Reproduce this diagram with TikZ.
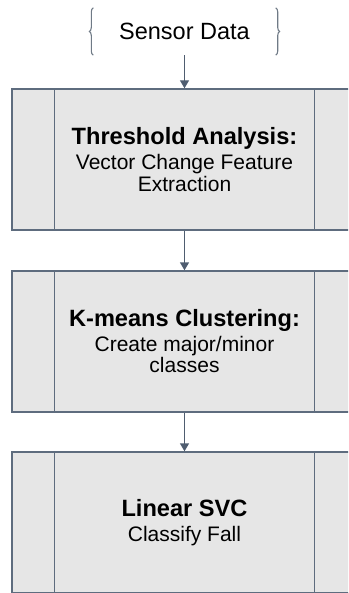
\documentclass[tikz,border=0pt]{standalone}
\usepackage{fontspec}
\setmainfont{Liberation Sans}
\usetikzlibrary{arrows.meta,decorations.pathreplacing}
\definecolor{boxfill}{HTML}{E6E6E6}
\definecolor{boxline}{HTML}{5E6C7E}
\definecolor{arrowcol}{HTML}{4F5D70}
\definecolor{bracecol}{HTML}{6F7A86}
\tikzset{
  procbox/.style={draw=boxline, fill=boxfill, line width=1.4pt, minimum width=345pt, minimum height=141pt, inner sep=0pt, align=center, font=\fontsize{21}{21.5}\selectfont},
  flow/.style={draw=arrowcol, line width=1.4pt, -{Triangle[width=9pt,length=8pt]}},
  bracestyle/.style={draw=bracecol, line width=1.1pt, decorate, decoration={brace, amplitude=4pt}}
}
\newcommand{\boxtitle}[1]{{\fontsize{23.6}{26}\selectfont\bfseries #1}}
\begin{document}
\begin{tikzpicture}[x=1pt,y=-1pt]
\useasboundingbox (0,0) rectangle (348,593);
\clip (0,0) rectangle (348,593);
\node[minimum width=182pt, minimum height=47pt, inner sep=0pt, font=\fontsize{23.5}{26}\selectfont] (sensor) at (184.5,31.5) {Sensor Data};
\draw[bracestyle] (sensor.south west) -- (sensor.north west);
\draw[bracestyle] (sensor.north east) -- (sensor.south east);

\node[procbox] (box1) at (184.5,159.5) {\boxtitle{Threshold Analysis:}\\[4pt] Vector Change Feature\\ Extraction};
\node[procbox] (box2) at (184.5,341.5) {\boxtitle{K-means Clustering:}\\[3pt] Create major/minor\\ classes};
\node[procbox] (box3) at (184.5,522.5) {\boxtitle{Linear SVC}\\[3pt] Classify Fall};

\foreach \b in {box1,box2,box3}{
  \draw[boxline, line width=1.4pt] ([xshift=43pt]\b.north west) -- ([xshift=43pt]\b.south west);
  \draw[boxline, line width=1.4pt] ([xshift=-43pt]\b.north east) -- ([xshift=-43pt]\b.south east);
}

\draw[flow] (sensor.south) -- (box1.north);
\draw[flow] (box1.south) -- (box2.north);
\draw[flow] (box2.south) -- (box3.north);
\end{tikzpicture}
\end{document}
